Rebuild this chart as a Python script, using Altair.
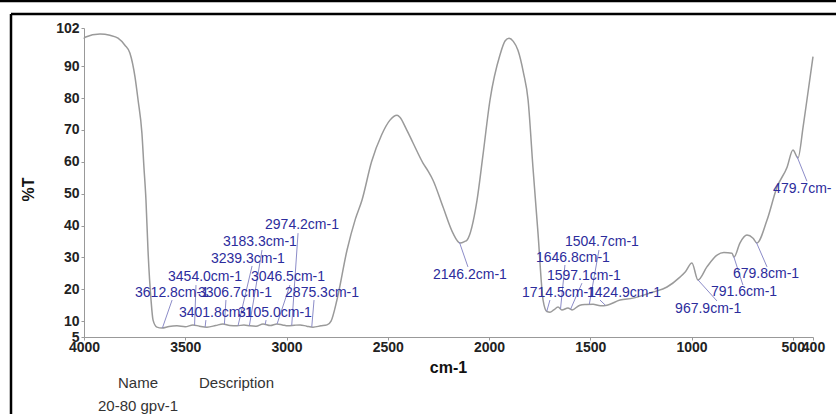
import altair as alt
import numpy as np
import pandas as pd

# ---- spectrum (wavenumber cm-1, %T) ----
wavenumber = [4000, 3995, 3921, 3872, 3832, 3798, 3773, 3748, 3733, 3714, 3704, 3694, 3684, 3669, 3659,
              3640, 3615, 3580, 3541, 3500, 3462, 3430, 3393, 3350, 3314, 3280, 3244, 3210, 3180, 3150,
              3116, 3080, 3047, 3020, 2993, 2960, 2933, 2900, 2869, 2830, 2800, 2780, 2751, 2701, 2660,
              2627, 2580, 2530, 2490, 2454, 2440, 2410, 2375, 2326, 2300, 2277, 2227, 2178, 2143, 2120,
              2109, 2059, 2030, 1995, 1946, 1920, 1901, 1880, 1857, 1830, 1807, 1783, 1758, 1733, 1714,
              1699, 1680, 1659, 1640, 1610, 1590, 1551, 1520, 1486, 1450, 1417, 1353, 1289, 1190, 1121,
              1057, 1030, 998, 968, 924, 874, 840, 800, 790, 761, 726, 696, 677, 627, 578, 528, 499, 474,
              449, 430, 400]
transmittance = [98.6, 99.1, 100.1, 99.7, 98.8, 96.6, 94.1, 86.6, 79.4, 69.0, 58.3, 48.0, 32.3, 16.6, 10.3,
                 8.1, 7.8, 8.3, 8.5, 8.2, 8.8, 8.4, 8.1, 8.6, 9.1, 8.6, 8.5, 8.8, 8.5, 8.4,
                 9.1, 8.6, 9.1, 8.8, 8.5, 8.7, 8.8, 8.4, 8.1, 8.5, 8.8, 10.0, 16.6, 32.3, 42.0,
                 48.0, 60.0, 68.5, 73.0, 74.6, 74.0, 70.5, 65.9, 59.6, 57.0, 54.3, 45.8, 37.6, 34.5, 35.0,
                 35.4, 48.0, 62.0, 79.4, 93.5, 98.0, 98.8, 97.8, 95.0, 88.0, 79.4, 58.3, 37.6, 16.6, 13.0,
                 12.8, 13.5, 14.4, 13.5, 14.1, 13.5, 15.0, 15.2, 15.3, 14.8, 15.0, 16.6, 17.2, 19.1, 20.7,
                 23.8, 25.5, 28.2, 22.9, 27.0, 30.7, 31.5, 31.3, 30.1, 34.5, 37.0, 36.0, 34.5, 41.7, 52.0,
                 58.3, 63.7, 61.2, 70.9, 79.4, 93.0]

# ---- peak labels ----
peak_wn = [2974.2, 3183.3, 3239.3, 3454.0, 3046.5, 3612.8, 3306.7, 2875.3, 3401.8, 3105.0,
           2146.2, 1504.7, 1646.8, 1597.1, 1714.5, 1424.9, 967.9, 791.6, 679.8, 479.7]
peak_text = ["2974.2cm-1", "3183.3cm-1", "3239.3cm-1", "3454.0cm-1", "3046.5cm-1", "3612.8cm-1",
             "3306.7cm-1", "2875.3cm-1", "3401.8cm-1", "3105.0cm-1", "2146.2cm-1", "1504.7cm-1",
             "1646.8cm-1", "1597.1cm-1", "1714.5cm-1", "1424.9cm-1", "967.9cm-1", "791.6cm-1",
             "679.8cm-1", "479.7cm-"]
# label anchor (left edge, middle) in data units
label_wn = [3106, 3314, 3373, 3585, 3175, 3748, 3437, 3007, 3531, 3240,
            2277, 1625, 1768, 1714, 1837, 1516, 1081, 904, 795, 597]
label_t = [40.1, 34.8, 29.5, 23.8, 23.8, 18.8, 18.8, 18.8, 12.5, 12.5,
           24.5, 34.8, 29.8, 24.1, 18.8, 18.8, 13.8, 19.1, 24.8, 51.4]
# leader line start (near the label) in data units
lead_wn = [2943, 3121, 3170, 3447, 2983, 3565, 3299, 2864, 3398, 3101,
           2104, 1457, 1625, 1541, 1699, 1452, 874, 746, 627, 430]
lead_t = [37.6, 32.3, 27.3, 21.3, 21.3, 16.6, 16.6, 16.6, 10.3, 10.3,
          27.0, 32.3, 27.6, 21.9, 16.6, 16.6, 16.3, 21.3, 27.0, 53.9]

x_ticks = [4000, 3500, 3000, 2500, 2000, 1500, 1000, 500, 400]
y_ticks = [5, 10, 20, 30, 40, 50, 60, 70, 80, 90, 102]

spec = pd.DataFrame({"wn": wavenumber, "t": transmittance})
wn_asc = np.array(wavenumber[::-1], dtype=float)
t_asc = np.array(transmittance[::-1], dtype=float)
peaks = pd.DataFrame({
    "label": peak_text,
    "lx": label_wn, "ly": label_t,
    "sx": lead_wn, "sy": lead_t,
    "ex": peak_wn,
    "ey": np.interp(peak_wn, wn_asc, t_asc),
})

FONT = "Liberation Sans"
xscale = alt.Scale(domain=[4000, 400], nice=False, zero=False)
yscale = alt.Scale(domain=[5, 102], nice=False, zero=False)

xaxis = alt.Axis(values=x_ticks, format="d", title="cm-1", grid=False, labelOverlap=False, labelFlush=False,
                 labelFont=FONT, labelFontSize=14, labelFontWeight="bold", labelColor="#222",
                 tickColor="#999", domainColor="#999", tickSize=3, labelPadding=0,
                 titleFont=FONT, titleFontSize=16, titleFontWeight="bold", titleColor="#111",
                 titleX=364, titleY=30, titleBaseline="middle", titleAlign="center")
yaxis = alt.Axis(values=y_ticks, format="d", title="%T", grid=False, labelOverlap=False, labelFlush=False,
                 labelFont=FONT, labelFontSize=14, labelFontWeight="bold", labelColor="#222",
                 tickColor="#999", domainColor="#999", tickSize=3, labelPadding=2,
                 titleFont=FONT, titleFontSize=16, titleFontWeight="bold", titleColor="#111",
                 titleX=-56, titleY=161, titleBaseline="middle", titleAlign="center", titleAngle=270)

line = alt.Chart(spec).mark_line(color="#9a9a9a", strokeWidth=1.5, interpolate="monotone").encode(
    x=alt.X("wn:Q", scale=xscale, axis=xaxis),
    y=alt.Y("t:Q", scale=yscale, axis=yaxis),
    order="wn:Q",
)

leaders = alt.Chart(peaks).mark_rule(color="#8c8cc8", strokeWidth=1).encode(
    x=alt.X("sx:Q", scale=xscale, axis=xaxis), y=alt.Y("sy:Q", scale=yscale, axis=yaxis),
    x2="ex:Q", y2="ey:Q"
)

labels = alt.Chart(peaks).mark_text(align="left", baseline="middle", font=FONT, fontSize=14,
                                    color="#2c2c9c").encode(
    x=alt.X("lx:Q", scale=xscale, axis=xaxis), y=alt.Y("ly:Q", scale=yscale, axis=yaxis),
    text="label:N"
)

deco = alt.Data(values=[{"a": 1}])
frame_top = alt.Chart(deco).mark_rule(color="black", strokeWidth=2.5).encode(
    x=alt.value(-84), x2=alt.value(752), y=alt.value(-27))
frame_top2 = alt.Chart(deco).mark_rule(color="black", strokeWidth=2.5).encode(
    x=alt.value(-73), x2=alt.value(752), y=alt.value(-14))
frame_left = alt.Chart(deco).mark_rule(color="black", strokeWidth=2.5).encode(
    x=alt.value(-73), y=alt.value(-14), y2=alt.value(390))

name_t = alt.Chart(deco).mark_text(font=FONT, fontSize=15, color="#333", align="center",
                                   baseline="middle").encode(
    x=alt.value(54), y=alt.value(355), text=alt.value("Name"))
desc_t = alt.Chart(deco).mark_text(font=FONT, fontSize=15, color="#333", align="left",
                                   baseline="middle").encode(
    x=alt.value(115), y=alt.value(355), text=alt.value("Description"))
id_t = alt.Chart(deco).mark_text(font=FONT, fontSize=15, color="#333", align="center",
                                 baseline="middle").encode(
    x=alt.value(54), y=alt.value(378), text=alt.value("20-80 gpv-1"))

chart = alt.layer(line, leaders, labels, frame_top, frame_top2, frame_left, name_t, desc_t, id_t).properties(
    width=729, height=309,
    autosize=alt.AutoSizeParams(type="none"),
    padding={"left": 84, "top": 28, "right": 23, "bottom": 77},
    background="white",
).configure_view(stroke=None)

chart.save("out.html", embed_options={"renderer": "svg", "actions": False})
